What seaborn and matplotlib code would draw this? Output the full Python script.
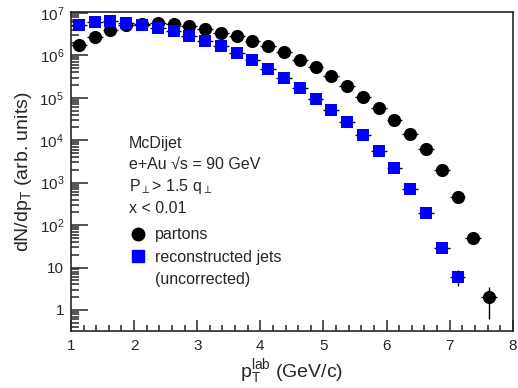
import numpy as np
import pandas as pd
import matplotlib
matplotlib.use("Agg")
import matplotlib.pyplot as plt
import matplotlib.ticker as mticker
from matplotlib.lines import Line2D
import seaborn as sns

# bin centres (GeV/c)
pt_partons = [1.125, 1.375, 1.625, 1.875, 2.125, 2.375, 2.625, 2.875, 3.125,
              3.375, 3.625, 3.875, 4.125, 4.375, 4.625, 4.875, 5.125, 5.375,
              5.625, 5.875, 6.125, 6.375, 6.625, 6.875, 7.125, 7.375, 7.625]
n_partons = [1.78e6, 2.7e6, 4.0e6, 5.1e6, 5.6e6, 5.8e6, 5.5e6, 4.8e6, 4.1e6,
             3.36e6, 2.79e6, 2.13e6, 1.62e6, 1.17e6, 7.9e5, 5.2e5, 3.2e5, 1.85e5,
             1.02e5, 5.8e4, 2.95e4, 1.42e4, 6.1e3, 2.0e3, 4.7e2, 49, 2.0]
err_partons = [0, 0, 0, 0, 0, 0, 0, 0, 0,
               0, 0, 0, 0, 0, 0, 0, 0, 0,
               0, 0, 0, 0, 0, 0, 20, 7, 1.4]

pt_jets = [1.125, 1.375, 1.625, 1.875, 2.125, 2.375, 2.625, 2.875, 3.125,
           3.375, 3.625, 3.875, 4.125, 4.375, 4.625, 4.875, 5.125, 5.375,
           5.625, 5.875, 6.125, 6.375, 6.625, 6.875, 7.125]
n_jets = [5.25e6, 5.97e6, 6.3e6, 5.8e6, 5.25e6, 4.4e6, 3.8e6, 2.9e6, 2.2e6,
          1.68e6, 1.13e6, 7.9e5, 4.75e5, 2.9e5, 1.7e5, 9.3e4, 5.2e4, 2.67e4,
          1.32e4, 5.6e3, 2.2e3, 7.0e2, 1.9e2, 29, 6.1]
err_jets = [0, 0, 0, 0, 0, 0, 0, 0, 0,
            0, 0, 0, 0, 0, 0, 0, 0, 0,
            0, 0, 0, 0, 0, 4, 2.5]
bin_half = 0.125

df_p = pd.DataFrame({"pt": pt_partons, "n": n_partons, "err": err_partons})
df_j = pd.DataFrame({"pt": pt_jets, "n": n_jets, "err": err_jets})

sns.set_style("ticks")
plt.rcParams["font.family"] = ["Liberation Sans", "DejaVu Sans"]
plt.rcParams["mathtext.fontset"] = "custom"
plt.rcParams["mathtext.rm"] = "Liberation Sans"
plt.rcParams["mathtext.it"] = "Liberation Sans"

fig = plt.figure(figsize=(5.18, 3.88), dpi=100)
ax = fig.add_axes([0.137, 0.147, 0.853, 0.822])

blue = "#0000ff"
for d in (df_p, df_j):
    ax.errorbar(d["pt"], d["n"], xerr=bin_half, yerr=d["err"], fmt="none",
                ecolor="black", elinewidth=1.0, capsize=0, zorder=2)

sns.scatterplot(data=df_p, x="pt", y="n", marker="o", color="black", s=90,
                linewidth=0, ax=ax, zorder=3)
sns.scatterplot(data=df_j, x="pt", y="n", marker="s", color=blue, s=82,
                linewidth=0, ax=ax, zorder=3)

ax.set_yscale("log")
ax.set_xlim(1, 8)
ax.set_ylim(0.32, 1.05e7)


def ylab(v, pos):
    if v == 1:
        return "1"
    if v == 10:
        return "10"
    return r"$10^{%d}$" % int(round(np.log10(v)))


ax.yaxis.set_major_locator(mticker.LogLocator(base=10, numticks=12))
ax.yaxis.set_major_formatter(mticker.FuncFormatter(ylab))
ax.yaxis.set_minor_locator(mticker.LogLocator(base=10, subs=np.arange(2, 10), numticks=12))
ax.yaxis.set_minor_formatter(mticker.NullFormatter())
ax.xaxis.set_major_locator(mticker.MultipleLocator(1))
ax.xaxis.set_minor_locator(mticker.MultipleLocator(0.2))

ax.tick_params(axis="both", which="both", direction="in", labelsize=11, width=1.1)
ax.tick_params(axis="y", which="major", length=12, pad=5)
ax.tick_params(axis="y", which="minor", length=6)
ax.tick_params(axis="x", which="major", length=8, pad=6)
ax.tick_params(axis="x", which="minor", length=4)
for sp in ax.spines.values():
    sp.set_visible(True)
    sp.set_linewidth(1.2)

ax.set_xlabel(r"p$_\mathregular{T}^\mathregular{lab}$ (GeV/c)", fontsize=14, labelpad=3)
ax.set_ylabel(r"dN/dp$_\mathregular{T}$ (arb. units)", fontsize=14, labelpad=4)

info = ["McDijet", "e+Au \u221as = 90 GeV",
        r"P$_{\perp}$> 1.5 q$_{\perp}$", "x < 0.01"]
for i, line in enumerate(info):
    ax.text(0.131, 0.589 - i * 0.068, line, transform=ax.transAxes,
            fontsize=11.5, va="center", ha="left")

handles = [Line2D([], [], marker="o", color="black", linestyle="none", markersize=9),
           Line2D([], [], marker="s", color=blue, linestyle="none", markersize=9),
           Line2D([], [], linestyle="none")]
labels = ["partons", "reconstructed jets", "(uncorrected)"]
ax.legend(handles, labels, loc="upper left", bbox_to_anchor=(0.115, 0.345),
          frameon=False, fontsize=11.5, handletextpad=0.5, labelspacing=0.45,
          borderaxespad=0, handlelength=1.2)

fig.savefig("out.png", dpi=100)
